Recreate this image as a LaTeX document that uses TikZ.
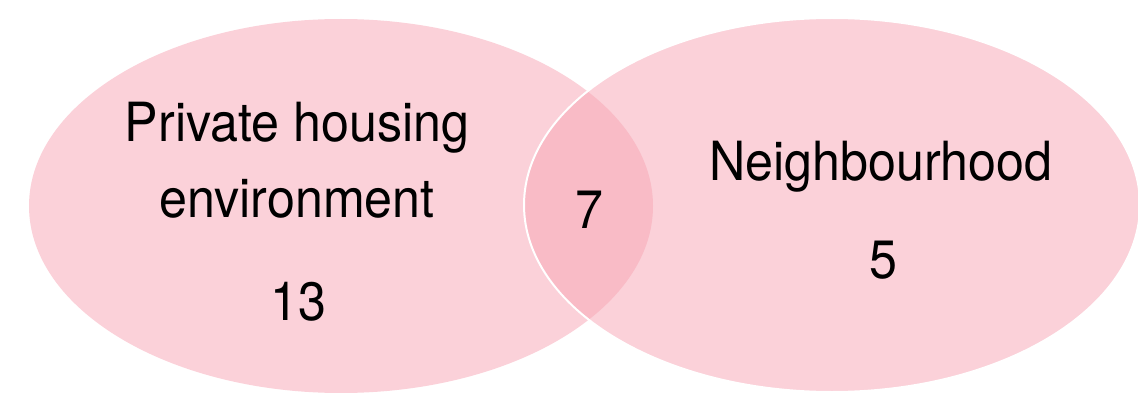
\documentclass[tikz,border=0pt]{standalone}
\usepackage{fontspec}
\setmainfont{TeX Gyre Heros}[FakeStretch=0.93]
\definecolor{vennpink}{RGB}{251,209,217}
\definecolor{vennover}{RGB}{249,187,198}
\begin{document}
\begin{tikzpicture}[x=1pt,y=-1pt,
  lbl/.style={anchor=base,inner sep=0pt,font=\fontsize{54}{64}\selectfont,text=black}]
\useasboundingbox (0,0) rectangle (1138,393);
\fill[vennpink] (341,206) ellipse [x radius=312, y radius=187];
\fill[vennpink] (832,205) ellipse [x radius=308, y radius=187];
\begin{scope}
  \clip (341,206) ellipse [x radius=312, y radius=187];
  \fill[vennover] (832,205) ellipse [x radius=308, y radius=187];
\end{scope}
\draw[white,line width=2] (832,205) ellipse [x radius=308, y radius=187];
\node[lbl] (l1) at (297,142) {Private housing};
\node[lbl] (l2) at (297,217) {environment};
\node[lbl] (l3) at (298,320) {13};
\node[lbl] (m) at (589,228) {7};
\node[lbl] (r1) at (881,180) {Neighbourhood};
\node[lbl] (r2) at (883,278) {5};
\end{tikzpicture}
\end{document}
